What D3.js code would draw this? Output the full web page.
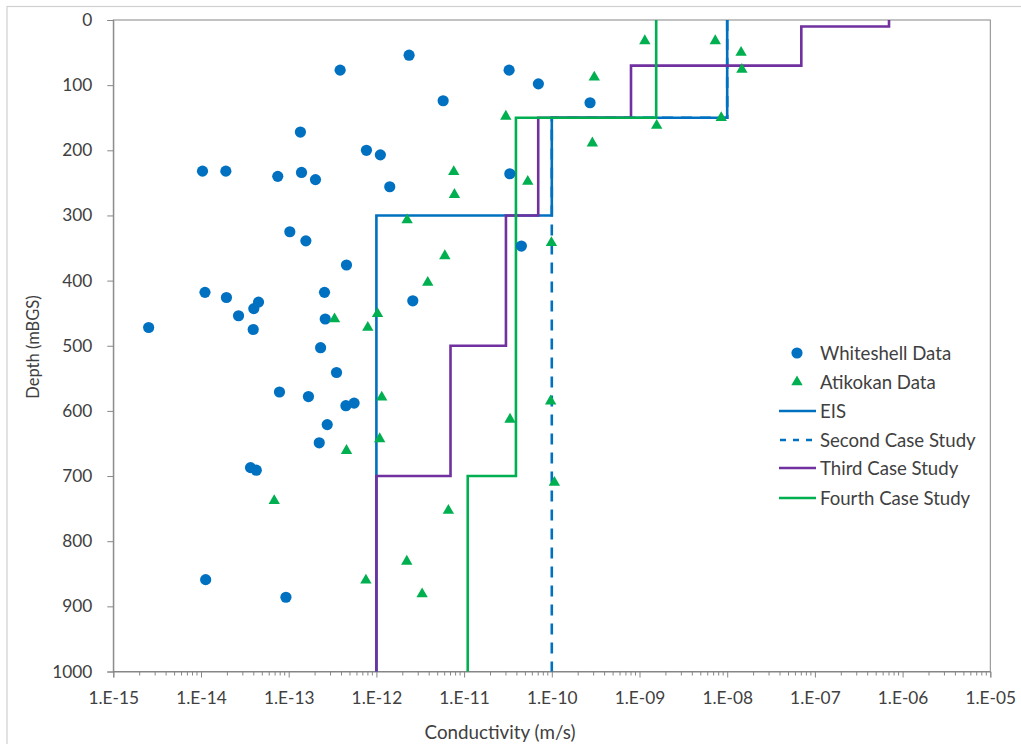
<!DOCTYPE html>
<html>
<head>
<meta charset="utf-8">
<script src="https://cdn.jsdelivr.net/npm/d3@7"></script>
<style>
  html, body { margin: 0; padding: 0; background: #fff; }
  svg { display: block; }
  text { font-family: Lato, "Open Sans", sans-serif; fill: #404040; }
</style>
</head>
<body>
<svg id="chart" width="1021" height="744"></svg>
<script>
// ---------- DATA ----------
const xTickValues = [1e-15, 1e-14, 1e-13, 1e-12, 1e-11, 1e-10, 1e-9, 1e-8, 1e-7, 1e-6, 1e-5];
const xTickLabels = ["1.E-15","1.E-14","1.E-13","1.E-12","1.E-11","1.E-10","1.E-09","1.E-08","1.E-07","1.E-06","1.E-05"];
const yTickValues = [0,100,200,300,400,500,600,700,800,900,1000];

// Whiteshell data (conductivity m/s, depth m)
const whiteshellK = [2.36e-12, 3.86e-13, 5.77e-12, 1.36e-13, 7.7e-13, 1.11e-12, 1.04e-14, 1.92e-14, 7.5e-14, 1.40e-13,
  2.02e-13, 1.42e-12, 1.03e-13, 1.57e-13, 4.56e-13, 1.11e-14, 1.95e-14, 4.53e-14, 4.0e-14, 2.68e-14,
  2.53e-15, 3.94e-14, 2.56e-13, 2.61e-13, 2.6e-12, 2.31e-13, 3.51e-13, 7.85e-14, 1.68e-13, 5.57e-13,
  4.49e-13, 2.75e-13, 2.23e-13, 3.67e-14, 4.27e-14, 1.13e-14, 9.3e-14, 3.26e-11, 7.03e-11, 2.73e-10,
  3.32e-11, 4.5e-11];
const whiteshellDepth = [54, 77, 124, 172, 200, 207, 232, 232, 240, 234,
  245, 256, 325, 339, 376, 418, 426, 433, 443, 454,
  472, 475, 418, 459, 431, 503, 541, 571, 578, 588,
  592, 621, 649, 687, 691, 859, 886, 77, 98, 127,
  236, 347];

// Atikokan data
const atikokanK = [2.24e-12, 6.03e-12, 3.85e-12, 1.03e-12, 3.33e-13, 7.98e-13, 1.15e-12, 1.09e-12, 4.56e-13, 6.84e-14,
  7.59e-13, 2.22e-12, 3.32e-12, 6.62e-12, 1.15e-9, 7.31e-9, 1.44e-8, 1.47e-8, 3.05e-10, 2.99e-11,
  1.57e-9, 8.55e-9, 2.9e-10, 7.62e-12, 7.76e-12, 5.32e-11, 9.9e-11, 9.7e-11, 3.34e-11, 1.07e-10];
const atikokanDepth = [307, 362, 403, 451, 459, 472, 579, 643, 661, 738,
  860, 831, 881, 753, 32, 32, 50, 76, 88, 148,
  162, 150, 189, 233, 268, 248, 342, 585, 613, 710];

// Step profiles: layer tops, layer bottoms, conductivity
const eisTop = [0, 150, 300];
const eisBottom = [150, 300, 1000];
const eisK = [1e-8, 1e-10, 1e-12];

const secondTop = [0, 150];
const secondBottom = [150, 1000];
const secondK = [1e-8, 1e-10];

const thirdTop = [0, 10, 70, 150, 300, 500, 700];
const thirdBottom = [10, 70, 150, 300, 500, 700, 1000];
const thirdK = [7e-7, 7e-8, 8e-10, 7e-11, 3e-11, 7e-12, 1e-12];

const fourthTop = [0, 150, 700];
const fourthBottom = [150, 700, 1000];
const fourthK = [1.55e-9, 3.9e-11, 1.1e-11];

const seriesNames = ["Whiteshell Data", "Atikokan Data", "EIS", "Second Case Study", "Third Case Study", "Fourth Case Study"];

// ---------- LAYOUT ----------
const C = { blue: "#0070C0", green: "#00B050", purple: "#7030A0", axis: "#868686" };
const plot = { left: 113.3, right: 990.3, top: 20, bottom: 671.5 };

const svg = d3.select("#chart");

// outer chart frame
svg.append("rect").attr("x", 7).attr("y", 6.5).attr("width", 1100).attr("height", 900)
  .attr("fill", "none").attr("stroke", "#d0d0d0").attr("stroke-width", 1.2);

const x = d3.scaleLog().domain([1e-15, 1e-5]).range([plot.left, plot.right]);
const y = d3.scaleLinear().domain([0, 1000]).range([plot.top, plot.bottom]);

// plot border
svg.append("rect").attr("x", plot.left).attr("y", plot.top)
  .attr("width", plot.right - plot.left).attr("height", plot.bottom - plot.top)
  .attr("fill", "none").attr("stroke", C.axis).attr("stroke-width", 1);

// X axis: major ticks
const xAxisG = svg.append("g").attr("transform", `translate(0,${plot.bottom})`);
const xAxis = d3.axisBottom(x).tickValues(xTickValues)
  .tickFormat((d, i) => xTickLabels[i]).tickSize(6).tickPadding(14);
xAxisG.call(xAxis);
// minor ticks
const minorVals = [];
for (let e = -15; e < -5; e++) for (let m = 2; m <= 9; m++) minorVals.push(m * Math.pow(10, e));
xAxisG.selectAll(".minor").data(minorVals).enter().append("line")
  .attr("class", "minor")
  .attr("x1", d => x(d)).attr("x2", d => x(d)).attr("y1", 0).attr("y2", 4)
  .attr("stroke", C.axis).attr("stroke-width", 1);
xAxisG.select(".domain").attr("stroke", C.axis);
xAxisG.selectAll(".tick line").attr("stroke", C.axis);
xAxisG.selectAll(".tick text").style("font-size", "17.3px").attr("fill", "#404040");

// Y axis
const yAxisG = svg.append("g").attr("transform", `translate(${plot.left},0)`);
yAxisG.call(d3.axisLeft(y).tickValues(yTickValues).tickFormat(d3.format("d")).tickSize(6).tickPadding(15));
yAxisG.select(".domain").attr("stroke", C.axis);
yAxisG.selectAll(".tick line").attr("stroke", C.axis);
yAxisG.selectAll(".tick text").style("font-size", "17.3px").attr("fill", "#404040");

// axis titles
svg.append("text").attr("x", 500).attr("y", 739).attr("text-anchor", "middle")
  .style("font-size", "18.8px").text("Conductivity (m/s)");
svg.append("text").attr("transform", "translate(39,347) rotate(-90)").attr("text-anchor", "middle")
  .style("font-size", "16.5px").text("Depth (mBGS)");

// step lines
function stepPoints(tops, bottoms, ks) {
  const pts = [];
  ks.forEach((k, i) => { pts.push([k, tops[i]]); pts.push([k, bottoms[i]]); });
  return pts;
}
const line = d3.line().x(d => x(d[0])).y(d => y(d[1]));
const g = svg.append("g");
const lw = 2.6;
g.append("path").attr("d", line(stepPoints(eisTop, eisBottom, eisK)))
  .attr("fill", "none").attr("stroke", C.blue).attr("stroke-width", lw);
g.append("path").attr("d", line(stepPoints(secondTop, secondBottom, secondK)))
  .attr("fill", "none").attr("stroke", C.blue).attr("stroke-width", lw).attr("stroke-dasharray", "11,8");
g.append("path").attr("d", line(stepPoints(thirdTop, thirdBottom, thirdK)))
  .attr("fill", "none").attr("stroke", C.purple).attr("stroke-width", lw);
g.append("path").attr("d", line(stepPoints(fourthTop, fourthBottom, fourthK)))
  .attr("fill", "none").attr("stroke", C.green).attr("stroke-width", lw);

// markers
const circ = d3.symbol().type(d3.symbolCircle).size(98);
const tri = d3.symbol().type(d3.symbolTriangle).size(56);
g.selectAll(".ws").data(whiteshellK).enter().append("path")
  .attr("transform", (d, i) => `translate(${x(d)},${y(whiteshellDepth[i])})`)
  .attr("d", circ).attr("fill", C.blue);
g.selectAll(".at").data(atikokanK).enter().append("path")
  .attr("transform", (d, i) => `translate(${x(d)},${y(atikokanDepth[i])})`)
  .attr("d", tri).attr("fill", C.green);

// legend
const leg = svg.append("g");
const legY = [353, 382, 411, 440, 468, 498];
leg.append("path").attr("transform", `translate(797,${legY[0]})`).attr("d", circ).attr("fill", C.blue);
leg.append("path").attr("transform", `translate(797,${legY[1]})`).attr("d", tri).attr("fill", C.green);
const legLines = [
  { c: C.blue, dash: null }, { c: C.blue, dash: "6,7" }, { c: C.purple, dash: null }, { c: C.green, dash: null }
];
legLines.forEach((l, i) => {
  const ln = leg.append("line").attr("x1", 779).attr("x2", 816)
    .attr("y1", legY[i + 2]).attr("y2", legY[i + 2])
    .attr("stroke", l.c).attr("stroke-width", lw);
  if (l.dash) ln.attr("stroke-dasharray", l.dash).attr("stroke-dashoffset", -1);
});
seriesNames.forEach((n, i) => {
  leg.append("text").attr("x", 820).attr("y", legY[i]).attr("dy", "0.35em")
    .style("font-size", "18.6px").text(n);
});
</script>
</body>
</html>
